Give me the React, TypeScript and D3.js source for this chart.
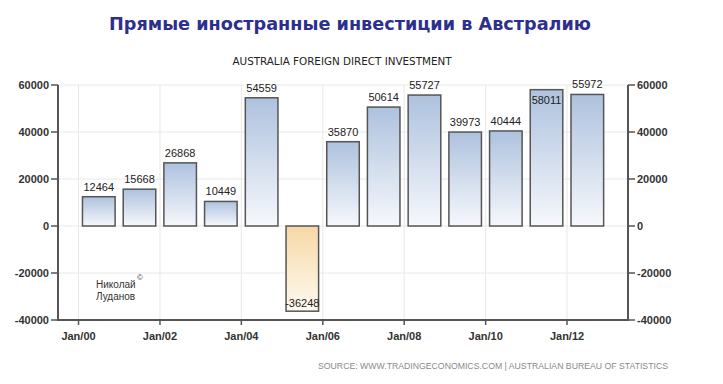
import React from "react";
import * as d3 from "d3";

const years = [2000, 2001, 2002, 2003, 2004, 2005, 2006, 2007, 2008, 2009, 2010, 2011, 2012];
const values = [12464, 15668, 26868, 10449, 54559, -36248, 35870, 50614, 55727, 39973, 40444, 58011, 55972];
const yTicks = [-40000, -20000, 0, 20000, 40000, 60000];
const xTickYears = [2000, 2002, 2004, 2006, 2008, 2010, 2012];

const title = "Прямые иностранные инвестиции в Австралию";
const subtitle = "AUSTRALIA FOREIGN DIRECT INVESTMENT";
const source = "SOURCE:  WWW.TRADINGECONOMICS.COM  |  AUSTRALIAN  BUREAU  OF  STATISTICS";
const author = ["Николай", "Луданов"];

const W = 723;
const H = 384;
const left = 58;
const right = 628;
const top = 85;
const bottom = 320;

export default function App() {
  const x = d3
    .scaleTime()
    .domain([new Date(1999, 6, 1), new Date(2013, 6, 1)])
    .range([left, right]);
  const y = d3.scaleLinear().domain([-40000, 60000]).range([bottom, top]);
  const fmt = d3.timeFormat("%b/%y");
  const font = "'Liberation Sans', Arial, sans-serif";

  return (
    <svg
      width={W}
      height={H}
      style={{ position: "absolute", left: 0, top: 0, background: "#fff" }}
      fontFamily={font}
    >
      <defs>
        <linearGradient id="gBlue" x1="0" y1="0" x2="0" y2="1">
          <stop offset="0" stopColor="#aec2de" />
          <stop offset="1" stopColor="#f6f8fc" />
        </linearGradient>
        <linearGradient id="gOrange" x1="0" y1="0" x2="0" y2="1">
          <stop offset="0" stopColor="#f6d8a6" />
          <stop offset="1" stopColor="#fffaf1" />
        </linearGradient>
      </defs>
      <rect x={0} y={0} width={W} height={H} fill="#fff" />

      <text
        x={350}
        y={30}
        textAnchor="middle"
        fontFamily="'DejaVu Sans', Verdana, sans-serif"
        fontWeight="bold"
        fontSize={18}
        fill="#2d2f8e"
        textLength={482}
        lengthAdjust="spacingAndGlyphs"
      >
        {title}
      </text>
      <text
        x={342}
        y={65}
        textAnchor="middle"
        fontFamily="'DejaVu Sans Condensed', 'DejaVu Sans', sans-serif"
        fontSize={10}
        fill="#222"
        textLength={219}
        lengthAdjust="spacingAndGlyphs"
      >
        {subtitle}
      </text>

      {/* grid */}
      {yTicks.map((t) => (
        <line key={"hg" + t} x1={left} x2={right} y1={y(t)} y2={y(t)} stroke="#e8e8e8" strokeWidth={1} />
      ))}
      {xTickYears.map((yr) => {
        const xx = x(new Date(yr, 0, 1));
        return <line key={"vg" + yr} x1={xx} x2={xx} y1={top} y2={bottom} stroke="#e8e8e8" strokeWidth={1} />;
      })}

      {/* bars */}
      {years.map((yr, i) => {
        const v = values[i];
        const cx = x(new Date(yr, 6, 1));
        const w = 0.8 * (x(new Date(yr + 1, 0, 1)) - x(new Date(yr, 0, 1)));
        const y0 = y(0);
        const y1 = y(v);
        return (
          <rect
            key={"b" + yr}
            x={cx - w / 2}
            y={Math.min(y0, y1)}
            width={w}
            height={Math.abs(y1 - y0)}
            fill={v >= 0 ? "url(#gBlue)" : "url(#gOrange)"}
            stroke="#555"
            strokeWidth={1.5}
          />
        );
      })}

      {/* value labels */}
      {years.map((yr, i) => {
        const v = values[i];
        const cx = x(new Date(yr, 6, 1));
        let ly: number;
        if (v >= 0) {
          ly = y(v) - 10;
          if (ly < top - 2) ly = y(v) + 10;
        } else {
          ly = y(v) + 10;
          if (ly > bottom - 6) ly = y(v) - 8.5;
        }
        return (
          <text
            key={"l" + yr}
            x={cx}
            y={ly}
            dy="0.35em"
            textAnchor="middle"
            fontSize={11}
            fill="#222"
          >
            {v}
          </text>
        );
      })}

      {/* axes */}
      <line x1={left} x2={left} y1={top} y2={bottom} stroke="#555" strokeWidth={2} />
      <line x1={right} x2={right} y1={top} y2={bottom} stroke="#555" strokeWidth={2} />
      <line x1={left - 1} x2={right + 1} y1={bottom} y2={bottom} stroke="#555" strokeWidth={2} />
      {yTicks.map((t) => (
        <g key={"yt" + t}>
          <line x1={left - 7} x2={left} y1={y(t)} y2={y(t)} stroke="#555" strokeWidth={1.5} />
          <text x={left - 9} y={y(t)} dy="0.35em" textAnchor="end" fontSize={11} fontWeight="bold" fill="#333">
            {t}
          </text>
          <line x1={right} x2={right + 7} y1={y(t)} y2={y(t)} stroke="#555" strokeWidth={1.5} />
          <text x={right + 9} y={y(t)} dy="0.35em" textAnchor="start" fontSize={11} fontWeight="bold" fill="#333">
            {t}
          </text>
        </g>
      ))}
      {xTickYears.map((yr) => {
        const d = new Date(yr, 0, 1);
        const xx = x(d);
        return (
          <g key={"xt" + yr}>
            <line x1={xx} x2={xx} y1={bottom} y2={bottom + 5} stroke="#555" strokeWidth={1.5} />
            <text x={xx} y={336} dy="0.35em" textAnchor="middle" fontSize={11} fontWeight="bold" fill="#333">
              {fmt(d)}
            </text>
          </g>
        );
      })}

      {/* author */}
      <text x={96} y={284} dy="0.35em" fontSize={10} fill="#333">
        {author[0]}
      </text>
      <text x={137} y={277} dy="0.35em" fontSize={8} fill="#333">
        ©
      </text>
      <text x={96} y={296} dy="0.35em" fontSize={10} fill="#333">
        {author[1]}
      </text>

      <text
        x={318}
        y={366}
        dy="0.35em"
        fontSize={8.5}
        fill="#8a8a8a"
        textLength={350}
        lengthAdjust="spacingAndGlyphs"
      >
        {source}
      </text>
    </svg>
  );
}
